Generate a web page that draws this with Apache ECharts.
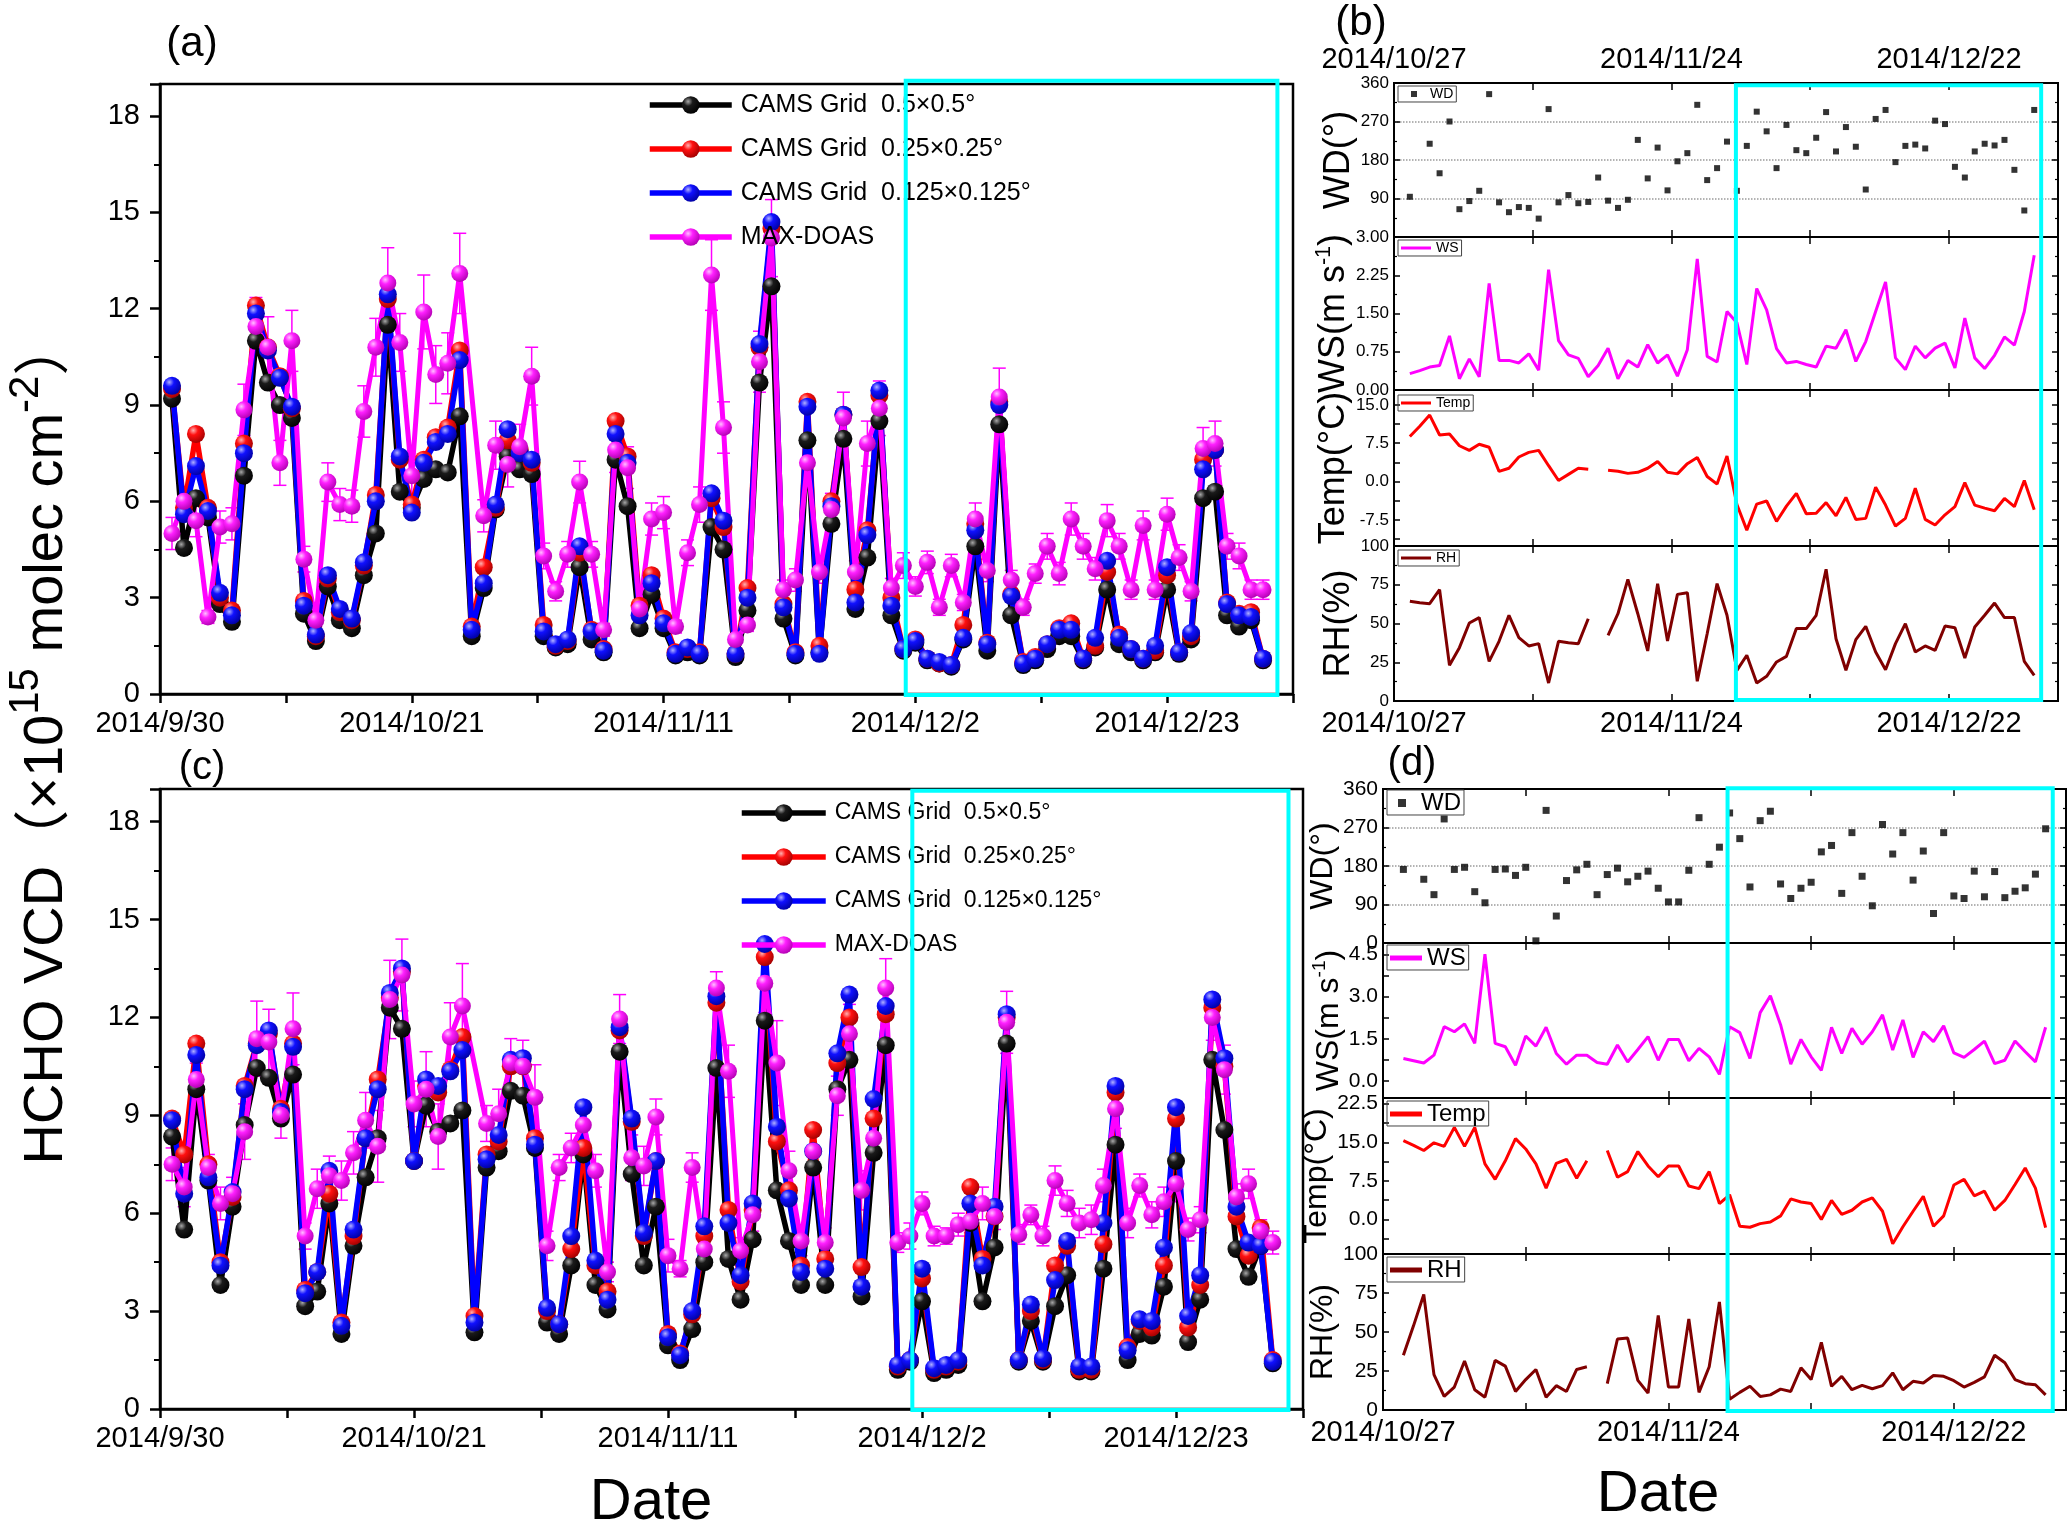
<!DOCTYPE html>
<html>
<head>
<meta charset="utf-8">
<title>HCHO VCD CAMS vs MAX-DOAS</title>
<script src="https://cdn.jsdelivr.net/npm/echarts@6.0.0/dist/echarts.min.js"></script>
<style>
  html, body { margin: 0; padding: 0; background: #fff; }
  #chart { width: 2067px; height: 1530px; }
</style>
</head>
<body>
<div id="chart"></div>
<script>
// ---- names and tick labels ----
var camsNames = ['CAMS Grid  0.5×0.5°', 'CAMS Grid  0.25×0.25°', 'CAMS Grid  0.125×0.125°', 'MAX-DOAS'];
var hchoTickDays = [0, 21, 42, 63, 84];           // days after 2014/9/30
var hchoTickLabels = ['2014/9/30', '2014/10/21', '2014/11/11', '2014/12/2', '2014/12/23'];
var metTickDays = [0, 28, 56];                    // days after 2014/10/27
var metTickLabels = ['2014/10/27', '2014/11/24', '2014/12/22'];

// ---- (a) HCHO VCD, one value per day, 2014/10/1 .. 2014/12/31 ----
var aCams05 = [9.2,4.55,6.1,5.5,2.8,2.25,6.8,11.0,9.7,9.0,
  8.6,2.5,1.65,3.35,2.3,2.05,3.7,5.0,11.5,6.3,
  5.8,6.7,7.0,6.9,8.65,1.8,3.3,5.75,7.4,7.0,
  6.85,1.8,1.45,1.55,3.95,1.7,1.3,7.3,5.85,2.05,
  3.1,2.05,1.2,1.3,1.2,5.2,4.5,1.15,2.6,9.7,
  12.7,2.35,1.2,7.9,1.3,5.3,7.95,2.65,4.25,8.5,
  2.45,1.35,1.6,1.05,0.95,0.85,1.7,4.6,1.35,8.4,
  2.45,0.9,1.05,1.4,1.8,1.8,1.05,1.45,3.25,1.55,
  1.3,1.05,1.3,3.25,1.25,1.7,6.1,6.3,2.45,2.1,
  2.3,1.05];
var aCams025 = [9.5,5.8,8.1,5.8,3.0,2.6,7.8,12.1,10.8,9.9,
  8.9,2.9,1.8,3.6,2.55,2.3,4.0,6.2,12.3,7.3,
  5.9,7.3,8.0,8.3,10.7,2.1,3.95,5.8,7.9,7.6,
  7.2,2.15,1.5,1.65,4.4,2.0,1.4,8.5,7.4,2.75,
  3.7,2.35,1.3,1.4,1.3,6.1,5.2,1.25,3.3,10.8,
  14.5,2.8,1.3,9.1,1.5,6.0,8.7,3.25,5.1,9.3,
  3.0,1.4,1.7,1.1,0.95,0.9,2.15,5.3,1.6,9.1,
  3.1,1.0,1.15,1.55,2.05,2.2,1.1,1.5,3.8,1.85,
  1.4,1.1,1.35,3.7,1.3,1.8,7.3,7.6,2.85,2.5,
  2.55,1.1];
var aCams0125 = [9.6,5.6,7.1,5.7,3.15,2.45,7.5,11.85,10.7,9.85,
  8.95,2.75,1.85,3.7,2.65,2.35,4.1,6.0,12.45,7.4,
  5.65,7.2,7.85,8.1,10.4,2.0,3.45,5.9,8.25,7.5,
  7.3,1.95,1.55,1.7,4.6,1.95,1.35,8.1,7.2,2.45,
  3.45,2.2,1.25,1.45,1.25,6.25,5.4,1.25,3.0,10.9,
  14.7,2.7,1.25,8.95,1.25,5.85,8.7,2.85,4.95,9.45,
  2.75,1.4,1.65,1.1,1.0,0.9,1.75,5.1,1.55,9.0,
  3.05,0.95,1.1,1.55,2.0,2.0,1.1,1.75,4.15,1.75,
  1.4,1.1,1.5,3.95,1.3,1.9,7.0,7.6,2.8,2.45,
  2.4,1.1];
var aDoas = [5.0,6.0,5.4,2.4,5.2,5.3,8.85,11.45,10.8,7.2,
  11.0,4.2,2.3,6.6,5.9,5.85,8.8,10.8,12.8,10.95,
  6.8,11.9,9.95,10.3,13.1,null,5.55,7.75,7.15,7.7,
  9.9,4.3,3.2,4.35,6.6,4.35,2.0,7.6,7.05,2.65,
  5.45,5.65,2.1,4.4,5.9,13.05,8.3,1.7,2.15,10.35,
  14.2,3.25,3.55,7.2,3.8,5.75,8.6,3.8,7.8,8.9,
  3.3,4.0,3.35,4.1,2.7,4.0,2.85,5.45,3.85,9.25,
  3.55,2.7,3.75,4.6,3.75,5.45,4.6,3.9,5.4,4.6,
  3.25,5.25,3.25,5.6,4.25,3.2,7.65,7.8,4.6,4.3,
  3.25,3.25];
var aDoasErr = [0.5,0.45,0.5,0.2,0.5,0.5,0.8,0.9,0.95,0.7,
  0.95,0.4,0.2,0.6,0.5,0.5,0.8,0.9,1.1,0.9,
  0.6,1.15,0.9,0.95,1.25,null,0.5,0.75,0.7,0.7,
  0.9,0.4,0.3,0.4,0.65,0.4,0.2,0.7,0.65,0.25,
  0.5,0.5,0.2,0.4,0.55,1.1,0.8,0.15,0.2,0.95,
  1.2,0.3,0.35,0.7,0.35,0.5,0.8,0.35,0.7,0.85,
  0.3,0.4,0.3,0.35,0.25,0.35,0.25,0.5,0.35,0.9,
  0.3,0.25,0.3,0.4,0.35,0.5,0.4,0.35,0.5,0.4,
  0.3,0.45,0.3,0.5,0.4,0.3,0.65,0.7,0.4,0.4,
  0.3,0.3];

// ---- (c) HCHO VCD, same days ----
var cCams05 = [8.35,5.5,9.8,7.0,3.8,6.2,8.7,10.45,10.15,8.9,
  10.25,3.15,3.6,6.3,2.3,5.0,7.1,8.3,12.3,11.65,
  7.6,9.3,8.5,8.75,9.15,2.35,7.4,7.9,9.75,9.6,
  8.0,2.65,2.3,4.4,7.8,3.8,3.05,10.95,7.2,4.4,
  6.2,1.95,1.5,2.45,4.5,10.45,4.6,3.35,5.2,11.9,
  6.7,5.15,3.8,7.4,3.8,9.8,10.7,3.45,7.85,11.15,
  1.2,1.45,3.3,1.1,1.2,1.35,5.7,3.3,4.95,11.2,
  1.45,2.7,1.45,3.15,4.1,1.15,1.15,4.3,8.1,1.5,
  2.3,2.25,3.75,7.6,2.05,3.35,10.7,8.55,4.9,4.05,
  5.0,1.4];
var cCams025 = [8.9,7.8,11.2,7.5,4.5,6.5,9.9,11.2,11.5,9.2,
  11.2,3.65,4.2,6.6,2.65,5.3,8.3,10.1,12.6,13.4,
  7.6,9.9,9.7,10.4,11.4,2.85,7.8,8.2,10.5,10.5,
  8.3,3.0,2.6,4.9,8.0,4.4,3.6,11.6,8.8,5.3,
  7.6,2.3,1.7,2.9,5.3,12.45,6.1,3.9,6.1,13.85,
  8.2,6.7,4.4,8.55,4.6,10.6,12.0,4.35,8.9,12.1,
  1.3,1.5,4.0,1.2,1.3,1.45,6.8,4.6,5.9,12.0,
  1.5,3.0,1.5,4.4,5.0,1.2,1.2,5.05,9.7,1.9,
  2.7,2.5,4.4,8.9,2.5,3.8,12.3,10.5,5.9,4.7,
  5.55,1.5];
var cCams0125 = [8.85,6.6,10.85,7.1,4.4,6.65,9.8,11.15,11.6,9.1,
  11.1,3.55,4.2,7.3,2.55,5.5,8.3,9.8,12.75,13.5,
  7.6,10.1,9.9,10.35,11.0,2.65,7.65,8.4,10.7,10.75,
  8.1,3.1,2.6,5.3,9.25,4.55,3.35,11.7,8.9,5.4,
  7.6,2.2,1.65,3.0,5.6,12.65,5.7,4.1,6.3,14.25,
  8.65,6.45,4.2,7.9,4.3,10.9,12.7,3.75,9.5,12.35,
  1.35,1.5,4.3,1.25,1.35,1.5,6.3,4.4,6.2,12.1,
  1.5,3.2,1.55,3.95,5.15,1.3,1.3,5.7,9.9,1.8,
  2.75,2.7,4.95,9.25,2.85,4.1,12.55,10.75,6.2,5.1,
  5.0,1.45];
var cDoas = [7.5,6.8,10.1,7.4,6.3,6.6,8.5,11.35,11.25,9.0,
  11.65,5.3,6.75,7.15,7.0,7.85,8.85,8.05,12.55,13.3,
  9.35,9.8,8.35,11.4,12.35,null,8.75,9.05,10.6,10.5,
  9.55,5.0,7.4,8.0,8.7,7.3,4.2,11.95,7.7,7.45,
  8.95,4.7,4.3,7.4,4.9,12.9,10.35,4.85,5.95,13.05,
  10.6,7.3,5.15,7.9,5.1,9.6,11.5,6.7,8.3,12.9,
  5.1,5.3,6.3,5.3,5.3,5.65,5.75,6.3,5.9,11.85,
  5.35,5.95,5.3,7.0,6.3,5.7,5.8,6.85,9.2,5.7,
  6.85,5.95,6.35,6.9,5.5,5.8,12.0,10.4,6.5,6.9,
  5.45,5.1];
var cDoasErr = [0.5,0.6,0.5,0.4,0.5,0.5,0.85,1.15,1.0,0.7,
  1.1,0.4,0.6,0.6,0.6,0.65,0.85,1.1,1.2,1.1,
  0.7,1.15,1.0,1.05,1.3,null,0.55,0.75,0.75,0.8,
  1.0,0.45,0.4,0.45,0.6,0.5,0.3,0.75,0.7,0.6,
  0.55,0.5,0.25,0.45,0.45,0.5,0.8,0.4,0.5,0.9,
  1.3,0.6,0.45,0.65,0.45,0.6,0.9,0.6,0.6,0.9,
  0.3,0.4,0.35,0.3,0.25,0.35,0.35,0.5,0.4,0.95,
  0.3,0.3,0.3,0.45,0.4,0.45,0.45,0.5,0.6,0.45,
  0.35,0.4,0.45,0.55,0.35,0.4,0.7,0.75,0.4,0.45,
  0.35,0.35];

// ---- (b) meteorology, one value per day from 10/28 ----
var bWD = [94,null,218,149,270,65,84,108,334,81, 58,70,68,43,299,81,98,79,82,139,
  85,68,87,227,137,209,109,177,196,309, 133,161,223,108,213,293,247,161,262,203,
  196,232,292,200,257,211,111,276,297,175, 213,216,207,272,264,164,139,200,218,214,
  227,157,62,297];
var bWS = [0.32,0.38,0.45,0.48,1.06,0.22,0.61,0.26,2.09,0.58, 0.58,0.53,0.71,0.39,2.36,0.97,0.69,0.62,0.26,0.48,
  0.82,0.22,0.58,0.45,0.89,0.53,0.69,0.27,0.79,2.57, 0.66,0.55,1.54,1.32,0.5,1.99,1.57,0.81,0.53,0.56,
  0.5,0.45,0.86,0.82,1.18,0.56,0.95,1.54,2.12,0.63, 0.4,0.86,0.63,0.82,0.92,0.43,1.41,0.63,0.42,0.68,
  1.04,0.88,1.54,2.64];
var bTemp = [8.8,10.8,13.0,9.1,9.3,7.0,6.1,7.3,6.7,2.0, 2.6,4.8,5.7,6.1,3.1,0.2,1.4,2.6,2.4,null,
  2.2,2.0,1.6,1.8,2.6,3.9,1.8,1.5,3.5,4.7, 1.0,-0.5,5.0,-4.5,-9.5,-4.4,-3.8,-7.8,-4.8,-2.3,
  -6.3,-6.2,-4.1,-6.7,-3.1,-7.4,-7.2,-1.1,-4.6,-8.7, -7.2,-1.3,-7.4,-8.5,-6.5,-4.9,-0.2,-4.6,-5.2,-5.7,
  -3.3,-4.9,0.2,-5.5];
var bRH = [64.3,63.4,62.8,71.8,23.0,34.4,50.3,53.8,25.6,38.5, 55.3,40.9,35.5,37.0,11.6,38.5,37.6,37.0,53.1,null,
  42.4,56.3,78.5,56.3,32.3,75.7,38.7,68.8,69.9,12.7, 43.4,75.7,55.3,19.8,29.5,11.6,15.9,25.2,28.8,46.7,
  46.7,55.3,85.0,40.2,19.8,39.6,48.2,31.6,20.2,37.0, 49.9,31.6,35.5,32.7,48.4,47.3,27.7,47.7,55.3,63.2,
  53.8,53.8,25.6,16.6];

// ---- (d) meteorology, one value per day from 10/29 ----
var dWD = [172,null,149,113,290,172,177,120,94,172, 173,158,177,5,310,63,146,171,184,113,
  160,175,143,156,168,128,96,96,170,293, 184,224,304,244,131,286,308,138,104,128,
  142,213,228,116,258,156,87,277,208,258, 147,215,69,258,110,104,168,108,167,106,
  121,129,161,267];
var dWS = [0.8,0.72,0.64,0.92,1.93,1.75,2.03,1.34,4.5,1.34, 1.22,0.56,1.6,1.24,1.91,0.98,0.6,0.92,0.92,0.66,
  0.6,1.28,0.68,1.12,1.58,0.74,1.48,1.48,0.72,1.16, 0.86,0.24,1.93,1.72,0.8,2.43,3.03,2.0,0.6,1.48,
  0.86,0.38,1.91,0.98,1.87,1.31,1.75,2.35,1.1,2.17, 0.84,1.75,1.4,1.96,1.0,0.84,1.12,1.42,0.62,0.74,
  1.42,1.04,0.68,1.91];
var dTemp = [15.3,14.4,13.4,14.9,14.2,17.9,14.2,17.9,10.8,7.8, 11.4,15.7,13.7,10.8,6.1,10.9,11.7,8.0,11.4,null,
  13.4,8.2,9.3,13.2,10.4,8.3,10.4,10.4,6.5,6.0, 9.3,3.1,4.8,-1.3,-1.5,-0.8,-0.5,0.7,4.0,3.4,
  3.1,0.0,3.7,1.0,1.8,3.4,4.2,1.6,-4.7,-1.4, 1.6,4.5,-1.3,0.7,6.7,7.8,4.6,5.5,1.8,3.7,
  6.8,10.0,6.1,-1.6];
var dRH = [35.1,54.1,74.0,22.7,8.7,14.7,31.4,13.0,8.2,31.8, 28.1,11.9,19.5,26.0,8.2,15.6,11.9,26.0,27.7,null,
  16.9,45.5,46.1,19.0,10.8,60.6,14.7,14.7,58.4,11.3, 27.7,69.3,6.9,11.3,15.2,8.7,9.7,13.4,11.9,27.1,
  19.5,43.3,15.2,21.6,13.0,15.8,13.6,15.6,23.8,13.0, 18.4,17.3,22.1,21.6,18.8,14.7,17.7,21.2,35.1,30.3,
  19.5,16.9,16.2,9.7];

// custom tick positions for the axes that do not start on a tick
var bTempTicks = [-11.25, -7.5, -3.75, 0, 3.75, 7.5, 11.25, 15];
var bTempLabels = [-7.5, 0, 7.5, 15];
var dWsTicks = [0, 0.75, 1.5, 2.25, 3, 3.75, 4.5];
var dWsLabels = [0, 1.5, 3, 4.5];
var dTempTicks = [-3.75, 0, 3.75, 7.5, 11.25, 15, 18.75, 22.5];
var dTempLabels = [0, 7.5, 15, 22.5];

// ---- styling ----
var FONT = 'Arial, "Liberation Sans", "Noto Sans CJK SC", sans-serif';
var camsLine = ['#000000', '#ff0000', '#0000ff', '#ff00ff'];
var camsBall = [['#a8a8a8', '#1a1a1a', '#000000'], ['#ffb0b0', '#ff1010', '#a00000'],
                ['#b0b0ff', '#1010ff', '#0000a0'], ['#ffc0ff', '#ff20ff', '#b000b0']];
var metColors = { WD: '#000000', WS: '#ff00ff', Temp: '#ff0000', RH: '#800000' };

function ball(c) {
  return new echarts.graphic.RadialGradient(0.35, 0.3, 0.75, [
    { offset: 0, color: c[0] }, { offset: 0.35, color: c[1] }, { offset: 1, color: c[2] }
  ]);
}

function tickLabel(days, labels) {
  return function (v) {
    for (var i = 0; i < days.length; i++) {
      if (Math.abs(days[i] - v) < 1e-6) return labels[i];
    }
    return '';
  };
}

function toPairs(vals, offset, dropNull) {
  var out = [];
  vals.forEach(function (v, i) {
    if (v == null) { if (!dropNull) out.push([offset + i, '-']); }
    else out.push([offset + i, v]);
  });
  return out;
}

var grids = [], xAxes = [], yAxes = [], series = [], legends = [];

function errorSeries(xi, yi, vals, errs) {
  var data = [];
  vals.forEach(function (v, i) {
    if (v != null) data.push([i + 1, v - errs[i], v + errs[i]]);
  });
  return {
    type: 'custom', xAxisIndex: xi, yAxisIndex: yi, silent: true, animation: false,
    data: data, encode: { x: 0, y: [1, 2] },
    renderItem: function (params, api) {
      var lo = api.coord([api.value(0), api.value(1)]);
      var hi = api.coord([api.value(0), api.value(2)]);
      var w = 6.5;
      var st = { stroke: '#ff00ff', lineWidth: 1.5 };
      return { type: 'group', children: [
        { type: 'line', shape: { x1: hi[0], y1: hi[1], x2: lo[0], y2: lo[1] }, style: st },
        { type: 'line', shape: { x1: hi[0] - w, y1: hi[1], x2: hi[0] + w, y2: hi[1] }, style: st },
        { type: 'line', shape: { x1: lo[0] - w, y1: lo[1], x2: lo[0] + w, y2: lo[1] }, style: st }
      ] };
    }
  };
}

function addHcho(rect, vals, errs, leg) {
  var gi = grids.length;
  grids.push({ left: rect[0], top: rect[1], width: rect[2], height: rect[3], show: true,
    borderColor: '#000', borderWidth: 2.5, containLabel: false, outerBoundsMode: 'none' });
  var xi = xAxes.length, yi = yAxes.length;
  xAxes.push({
    type: 'value', gridIndex: gi, min: 0, max: 94.5, interval: 10.5,
    axisLine: { onZero: false, lineStyle: { color: '#000', width: 2.5 } },
    axisTick: { length: 9, lineStyle: { color: '#000', width: 2.5 } },
    axisLabel: { fontSize: 29, color: '#000', fontFamily: FONT, margin: 15,
      formatter: tickLabel(hchoTickDays, hchoTickLabels) },
    splitLine: { show: false }
  });
  yAxes.push({
    type: 'value', gridIndex: gi, min: 0, max: 19, interval: 3,
    axisLine: { onZero: false, lineStyle: { color: '#000', width: 2.5 } },
    axisTick: { length: 10, lineStyle: { color: '#000', width: 2.5 } },
    minorTick: { show: true, splitNumber: 2, length: 6, lineStyle: { color: '#000', width: 2 } },
    axisLabel: { fontSize: 29, color: '#000', fontFamily: FONT, margin: 20,
      formatter: function (v) { return Math.abs(v % 3) < 1e-6 ? String(v) : ''; } },
    splitLine: { show: false }
  });
  vals.forEach(function (arr, k) {
    if (k === 3) series.push(errorSeries(xi, yi, arr, errs));
    series.push({
      name: camsNames[k], type: 'line', xAxisIndex: xi, yAxisIndex: yi,
      data: toPairs(arr, 1, true),
      symbol: 'circle', symbolSize: k === 3 ? 17 : 18, showSymbol: true,
      lineStyle: { color: camsLine[k], width: k === 3 ? 5 : 5.5 },
      itemStyle: { color: ball(camsBall[k]) },
      emphasis: { disabled: true }, animation: false
    });
  });
  legends.push({
    data: camsNames, orient: 'vertical', left: leg.left, top: leg.top, padding: 0,
    itemWidth: leg.iconW, itemHeight: 22, itemGap: leg.gap, selectedMode: false,
    lineStyle: { width: 5.5 },
    textStyle: { fontSize: leg.font, color: '#000', fontFamily: FONT, lineHeight: leg.lh, padding: [0, 0, 0, 4] }
  });
}

function metX(gi, pos, withLabels) {
  return {
    type: 'value', gridIndex: gi, position: pos, min: 0, max: 67, interval: 14,
    axisLine: { onZero: false, lineStyle: { color: '#000', width: 2 } },
    axisTick: { inside: true, length: 7, lineStyle: { color: '#000', width: 1.5 } },
    axisLabel: { show: withLabels, fontSize: 29, color: '#000', fontFamily: FONT, margin: 8,
      formatter: tickLabel(metTickDays, metTickLabels) },
    splitLine: { show: false }
  };
}

function metY(gi, pos, d, p) {
  var ax = {
    type: 'value', gridIndex: gi, position: pos, min: d.min, max: d.max,
    axisLine: { onZero: false, lineStyle: { color: '#000', width: 2 } },
    axisTick: { inside: true, length: 6, lineStyle: { color: '#000', width: 1.5 } },
    axisLabel: { show: pos === 'left', fontSize: p.labelFont, color: '#000', fontFamily: FONT, margin: 5,
      formatter: function (v) { return v.toFixed(d.digits); } },
    splitLine: { show: pos === 'left' && !!d.dotted, lineStyle: { type: 'dotted', color: '#9a9a9a', width: 1.5 } }
  };
  if (d.interval) {
    ax.interval = d.interval;
    ax.minorTick = { show: true, splitNumber: 2, length: 3, lineStyle: { color: '#000', width: 1.2 } };
  } else {
    ax.axisTick.customValues = d.ticks;
    ax.axisLabel.customValues = d.labels;
  }
  if (d.hideMin) ax.axisLabel.showMinLabel = false;
  if (pos === 'left') {
    ax.name = d.title;
    ax.nameLocation = 'middle';
    ax.nameRotate = 90;
    ax.nameGap = d.gap;
    ax.nameTextStyle = {
      color: '#000', fontFamily: FONT, fontSize: p.nameFont,
      rich: {
        a: { fontSize: p.nameFont, fontFamily: FONT, color: '#000', lineHeight: p.nameFont * 1.15 },
        s: { fontSize: p.nameFont * 0.6, fontFamily: FONT, color: '#000', verticalAlign: 'top', lineHeight: p.nameFont * 0.6 }
      }
    };
  }
  return ax;
}

function addMet(p) {
  p.axes = [];
  p.defs.forEach(function (d, k) {
    var gi = grids.length;
    grids.push({ left: p.left, top: p.tops[k], width: p.width, height: p.heights[k], show: true,
      borderColor: '#000', borderWidth: 2, containLabel: false, outerBoundsMode: 'none' });
    var xi = xAxes.length, yi = yAxes.length;
    xAxes.push(metX(gi, 'bottom', k === 3));
    xAxes.push(metX(gi, 'top', k === 0 && p.topLabels));
    yAxes.push(metY(gi, 'left', d, p));
    yAxes.push(metY(gi, 'right', d, p));
    p.axes.push({ x: xi, y: yi });
    var color = metColors[d.name];
    if (d.name === 'WD') {
      series.push({ name: 'WD', type: 'scatter', xAxisIndex: xi, yAxisIndex: yi,
        data: toPairs(d.values, p.offset, true), symbol: 'rect', symbolSize: p.wdSize,
        itemStyle: { color: color }, emphasis: { disabled: true }, animation: false });
    } else {
      series.push({ name: d.name, type: 'line', xAxisIndex: xi, yAxisIndex: yi,
        data: toPairs(d.values, p.offset, false), symbol: 'none', connectNulls: false,
        lineStyle: { color: color, width: 3 }, itemStyle: { color: color },
        emphasis: { disabled: true }, animation: false });
    }
    var isWD = d.name === 'WD';
    legends.push({
      data: [{ name: d.name, icon: 'rect' }], left: p.legLeft, top: p.legTops[k], orient: 'horizontal',
      itemWidth: isWD ? p.wdIcon : p.legIcon, itemHeight: isWD ? p.wdIcon : p.legLine,
      padding: isWD ? p.wdPad : p.legPad, borderColor: '#444', borderWidth: 1, selectedMode: false,
      textStyle: { fontSize: p.legFont, color: '#000', fontFamily: FONT, padding: isWD ? [0, 0, 0, p.wdTextPad] : 0 }
    });
  });
}

// ---- build panels ----
addHcho([160, 84, 1133, 610], [aCams05, aCams025, aCams0125, aDoas], aDoasErr,
  { left: 647, top: 91, iconW: 82, font: 25, lh: 28, gap: 16 });
addHcho([160, 789, 1143, 620], [cCams05, cCams025, cCams0125, cDoas], cDoasErr,
  { left: 739, top: 800, iconW: 84, font: 23, lh: 26, gap: 18 });

var panelB = {
  left: 1394, width: 664, tops: [83, 237, 390, 546], heights: [154, 153, 156, 155],
  offset: 1.6, topLabels: true, labelFont: 17, nameFont: 36, wdSize: [6, 6],
  legLeft: 1398, legTops: [86, 240, 395, 550], legFont: 14, legIcon: 30, legLine: 3,
  legPad: [1, 3, 1, 3], wdIcon: 6, wdPad: [1, 3, 1, 13], wdTextPad: 8,
  defs: [
    { name: 'WD', values: bWD, title: '{a|WD(°)}', min: 0, max: 360, interval: 90, digits: 0, dotted: true, hideMin: true, gap: 26 },
    { name: 'WS', values: bWS, title: '{a|WS(m s}{s|-1}{a|)}', min: 0, max: 3, interval: 0.75, digits: 2, gap: 32 },
    { name: 'Temp', values: bTemp, title: '{a|Temp(°C)}', min: -12.6, max: 17.9, ticks: bTempTicks, labels: bTempLabels, digits: 1, gap: 24 },
    { name: 'RH', values: bRH, title: '{a|RH(%)}', min: 0, max: 100, interval: 25, digits: 0, gap: 27 }
  ]
};
var panelD = {
  left: 1383, width: 683, tops: [789, 943, 1098, 1254], heights: [154, 155, 156, 156],
  offset: 2, topLabels: false, labelFont: 21, nameFont: 32, wdSize: [7, 7],
  legLeft: 1387, legTops: [790, 945, 1101, 1257], legFont: 24, legIcon: 32, legLine: 5,
  legPad: [1, 3, 0, 3], wdIcon: 8, wdPad: [1, 3, 0, 11], wdTextPad: 10,
  defs: [
    { name: 'WD', values: dWD, title: '{a|WD(°)}', min: 0, max: 360, interval: 90, digits: 0, dotted: true, gap: 22 },
    { name: 'WS', values: dWS, title: '{a|WS(m s}{s|-1}{a|)}', min: -0.6, max: 4.9, ticks: dWsTicks, labels: dWsLabels, digits: 1, gap: 24 },
    { name: 'Temp', values: dTemp, title: '{a|Temp(°C)}', min: -6.7, max: 23.6, ticks: dTempTicks, labels: dTempLabels, digits: 1, gap: 20 },
    { name: 'RH', values: dRH, title: '{a|RH(%)}', min: 0, max: 100, interval: 25, digits: 0, gap: 26 }
  ]
};
addMet(panelB);
addMet(panelD);

var option = {
  backgroundColor: '#ffffff',
  animation: false,
  textStyle: { fontFamily: FONT },
  grid: grids, xAxis: xAxes, yAxis: yAxes, legend: legends, series: series
};

var chart = echarts.init(document.getElementById('chart'));
chart.setOption(option);

// ---- highlight boxes (data ranges) and free text ----
var cyanBoxes = [
  { xTop: 0, yTop: 0, xBottom: 0, yBottom: 0, x: [62.2, 93.2], y: [19.1, -0.03] },
  { xTop: 1, yTop: 1, xBottom: 1, yBottom: 1, x: [62.2, 93.3], y: [18.95, -0.03] },
  { xTop: panelB.axes[0].x, yTop: panelB.axes[0].y, xBottom: panelB.axes[3].x, yBottom: panelB.axes[3].y, x: [34.5, 65.3], y: [355, 0.6] },
  { xTop: panelD.axes[0].x, yTop: panelD.axes[0].y, xBottom: panelD.axes[3].x, yBottom: panelD.axes[3].y, x: [33.8, 65.7], y: [362, -0.6] }
];
var graphics = cyanBoxes.map(function (b) {
  var p0 = chart.convertToPixel({ xAxisIndex: b.xTop, yAxisIndex: b.yTop }, [b.x[0], b.y[0]]);
  var p1 = chart.convertToPixel({ xAxisIndex: b.xBottom, yAxisIndex: b.yBottom }, [b.x[1], b.y[1]]);
  return { type: 'rect', z: 100, silent: true,
    shape: { x: p0[0], y: p0[1], width: p1[0] - p0[0], height: p1[1] - p0[1] },
    style: { fill: 'none', stroke: '#00ffff', lineWidth: 4 } };
});

function label(txt, x, y, size) {
  return { type: 'text', x: x, y: y, z: 101, silent: true,
    style: { text: txt, fontSize: size, fontFamily: FONT, fill: '#000', align: 'center', verticalAlign: 'middle' } };
}
graphics.push(label('(a)', 192, 44, 42));
graphics.push(label('(b)', 1361, 23, 42));
graphics.push(label('(c)', 202, 768, 40));
graphics.push(label('(d)', 1412, 764, 40));
graphics.push(label('Date', 651, 1503, 58));
graphics.push(label('Date', 1658, 1495, 58));
graphics.push({
  type: 'text', x: 47, y: 742, rotation: Math.PI / 2, z: 101, silent: true,
  style: {
    text: '{m|HCHO VCD（×10}{s|15}{m| molec cm}{s|-2}{m|）}',
    align: 'center', verticalAlign: 'middle', fill: '#000',
    rich: {
      m: { fontSize: 56, fontFamily: FONT, fill: '#000', lineHeight: 84 },
      s: { fontSize: 42, fontFamily: FONT, fill: '#000', lineHeight: 42, verticalAlign: 'top' }
    }
  }
});
chart.setOption({ graphic: graphics });
</script>
</body>
</html>
